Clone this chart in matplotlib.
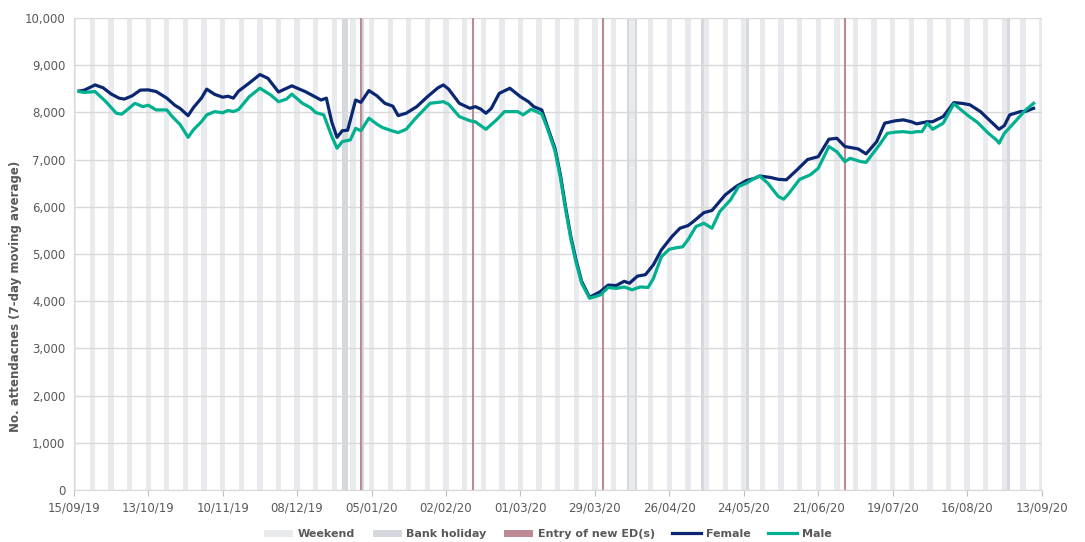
import pandas as pd
import matplotlib.pyplot as plt
import matplotlib.dates as mdates
from matplotlib.patches import Patch
from matplotlib.lines import Line2D

# ========= DATA =========
START = pd.Timestamp("2019-09-15")

# days since 15/09/19 and 7-day moving average attendances
female_days = [2, 4, 8, 11, 14, 17, 19, 22, 25, 28, 31, 35, 38, 40, 43, 45, 48, 50, 53, 56,
               58, 60, 62, 66, 70, 73, 77, 82, 87, 91, 93, 95, 97, 99, 101, 103, 106, 108, 111, 114,
               117, 120, 122, 125, 129, 133, 137, 139, 141, 145, 149, 151, 153, 155, 157, 160, 164, 168, 171, 173,
               176, 178, 181, 183, 185, 187, 189, 191, 194, 198, 201, 204, 207, 209, 212, 215, 218, 221, 225, 228,
               231, 233, 237, 240, 242, 245, 249, 253, 256, 258, 262, 265, 268, 272, 276, 280, 284, 287, 290, 295,
               298, 302, 305, 309, 312, 315, 317, 321, 323, 327, 331, 334, 337, 341, 345, 348, 350, 352, 356, 358,
               361]
female_vals = [8450, 8470, 8580, 8520, 8390, 8300, 8280, 8350, 8470, 8475, 8440, 8300, 8150, 8080, 7930, 8100, 8300, 8490, 8380, 8320,
               8340, 8300, 8450, 8620, 8800, 8720, 8430, 8560, 8440, 8320, 8260, 8300, 7800, 7470, 7610, 7620, 8260, 8210, 8460, 8350,
               8190, 8130, 7930, 7980, 8120, 8330, 8520, 8580, 8490, 8190, 8085, 8120, 8070, 7980, 8080, 8400, 8510, 8330, 8225, 8120,
               8050, 7720, 7230, 6680, 5980, 5350, 4850, 4420, 4080, 4200, 4340, 4330, 4420, 4380, 4530, 4560, 4770, 5085, 5370, 5545,
               5600, 5685, 5875, 5920, 6050, 6250, 6425, 6555, 6600, 6650, 6620, 6580, 6570, 6780, 7000, 7060, 7430, 7450, 7275, 7225,
               7120, 7380, 7770, 7820, 7840, 7800, 7755, 7800, 7800, 7910, 8205, 8190, 8160, 8015, 7800, 7640, 7720, 7945, 8015, 8020,
               8085]

male_days = [2, 4, 8, 12, 16, 18, 20, 23, 26, 28, 31, 35, 37, 40, 43, 45, 48, 50, 53, 56,
             58, 60, 62, 66, 70, 74, 77, 80, 82, 86, 89, 91, 94, 97, 99, 101, 104, 106, 108, 111,
             114, 116, 119, 122, 125, 129, 134, 139, 141, 145, 149, 151, 155, 159, 162, 167, 169, 172, 176, 178,
             181, 183, 185, 187, 189, 191, 194, 198, 201, 204, 207, 210, 213, 216, 218, 221, 224, 227, 229, 231,
             234, 237, 240, 243, 247, 250, 253, 256, 258, 261, 265, 267, 269, 273, 277, 280, 284, 287, 290, 292,
             296, 298, 303, 306, 309, 312, 315, 317, 319, 321, 323, 327, 331, 336, 340, 344, 347, 348, 350, 354,
             358, 361]
male_vals = [8440, 8420, 8440, 8230, 7980, 7960, 8050, 8190, 8120, 8150, 8050, 8050, 7910, 7740, 7470, 7630, 7800, 7945, 8015, 7990,
             8040, 8015, 8060, 8330, 8510, 8370, 8225, 8280, 8385, 8190, 8100, 7995, 7945, 7495, 7240, 7380, 7415, 7660, 7610, 7875,
             7750, 7680, 7620, 7570, 7640, 7900, 8190, 8225, 8170, 7910, 7820, 7800, 7640, 7840, 8015, 8015, 7945, 8065, 7965, 7680,
             7180, 6620, 5930, 5300, 4800, 4380, 4060, 4130, 4290, 4270, 4300, 4240, 4300, 4290, 4480, 4940, 5100, 5135, 5150, 5300,
             5580, 5650, 5545, 5900, 6145, 6425, 6500, 6600, 6650, 6500, 6215, 6160, 6285, 6580, 6675, 6815, 7275, 7165, 6955, 7025,
             6955, 6940, 7310, 7555, 7580, 7590, 7570, 7590, 7590, 7770, 7640, 7770, 8180, 7945, 7780, 7555, 7415, 7345, 7555, 7800,
             8050, 8190]

bank_holidays = ["2019-12-25", "2019-12-26", "2020-01-01", "2020-04-10", "2020-04-13",
                 "2020-05-08", "2020-05-25", "2020-08-31"]
new_ed_dates = ["2020-01-01", "2020-02-12", "2020-04-01", "2020-07-01"]

# ========= STYLE =========
C_FEMALE = "#0B2672"
C_MALE = "#00B08F"
C_WEEKEND = "#E9EAED"
C_BANK = "#D5D9DE"
C_ED = "#BC8A94"
C_TEXT = "#595959"

female_dates = START + pd.to_timedelta(female_days, unit="D")
male_dates = START + pd.to_timedelta(male_days, unit="D")

fig = plt.figure(figsize=(10.85, 5.42), dpi=100)
ax = fig.add_axes([0.068, 0.096, 0.892, 0.871])

x_min = START
x_max = pd.Timestamp("2020-09-13")

# ---- weekends ----
for sat in pd.date_range("2019-09-14", x_max, freq="W-SAT"):
    ax.axvspan(sat, sat + pd.Timedelta(days=2), color=C_WEEKEND, lw=0, zorder=0)

# ---- bank holidays ----
for bh in bank_holidays:
    d = pd.Timestamp(bh)
    ax.axvspan(d, d + pd.Timedelta(days=1), color=C_BANK, lw=0, zorder=0.2)

# ---- new ED lines ----
for ed in new_ed_dates:
    ax.axvline(pd.Timestamp(ed), color=C_ED, lw=1.5, zorder=1)

ax.plot(female_dates, female_vals, color=C_FEMALE, lw=2.3, zorder=3)
ax.plot(male_dates, male_vals, color=C_MALE, lw=2.3, zorder=4)

ax.set_xlim(x_min, x_max)
ax.set_ylim(0, 10000)
ax.set_yticks(range(0, 10001, 1000))
ax.yaxis.set_major_formatter(plt.FuncFormatter(lambda v, p: f"{int(v):,}"))
ax.set_xticks(pd.date_range(x_min, x_max, freq="28D"))
ax.xaxis.set_major_formatter(mdates.DateFormatter("%d/%m/%y"))

ax.grid(axis="y", color="#D9D9D9", lw=1, zorder=0.5)
ax.set_axisbelow(True)
for s in ["top", "right"]:
    ax.spines[s].set_visible(False)
ax.spines["left"].set_color("#D9D9D9")
ax.spines["bottom"].set_color("#D9D9D9")
ax.tick_params(axis="y", length=0, labelsize=8.5, labelcolor=C_TEXT, pad=6)
ax.tick_params(axis="x", length=4, color="#BFBFBF", labelsize=8.5, labelcolor=C_TEXT, pad=4)

ax.set_ylabel("No. attendacnes (7-day moving average)", fontsize=8.5, fontweight="bold",
              color=C_TEXT)
ax.yaxis.set_label_coords(-0.053, 0.41)

# ---- Legend ----
handles = [
    Patch(facecolor=C_WEEKEND, edgecolor="none"),
    Patch(facecolor=C_BANK, edgecolor="none"),
    Patch(facecolor=C_ED, edgecolor="none"),
    Line2D([0], [0], color=C_FEMALE, lw=2.3),
    Line2D([0], [0], color=C_MALE, lw=2.3),
]
labels = ["Weekend", "Bank holiday", "Entry of new ED(s)", "Female", "Male"]
leg = fig.legend(handles, labels, loc="lower center", bbox_to_anchor=(0.505, -0.013), ncol=5,
                 frameon=False, fontsize=8, handlelength=2.6, handleheight=0.6,
                 columnspacing=1.6, handletextpad=0.4)
for t in leg.get_texts():
    t.set_color(C_TEXT)
    t.set_fontweight("bold")

plt.savefig("out.png", dpi=100)
plt.close()
